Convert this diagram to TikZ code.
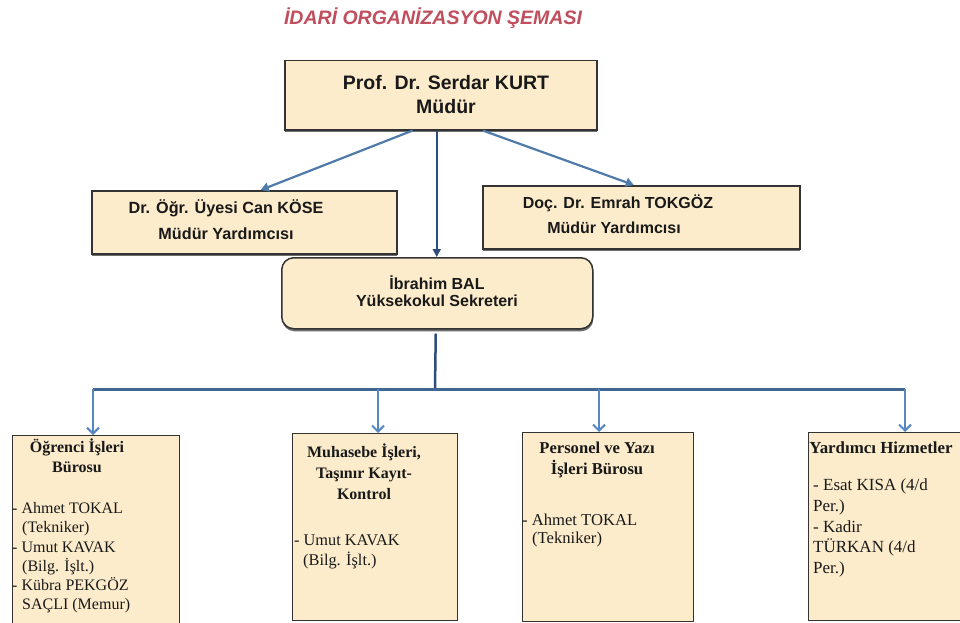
\documentclass[tikz,border=0pt]{standalone}
\usepackage{fontspec}
\setmainfont{Liberation Serif}
\newfontfamily\arialf{Liberation Sans}
\usetikzlibrary{arrows.meta,shadows,calc}
\definecolor{boxfill}{RGB}{252,236,203}
\definecolor{titlered}{RGB}{192,78,92}
\definecolor{diagblue}{RGB}{79,123,170}
\definecolor{navy}{RGB}{46,77,122}
\definecolor{busblue}{RGB}{66,102,145}
\definecolor{thinblue}{RGB}{85,136,192}
\begin{document}
\begin{tikzpicture}[x=1pt,y=-1pt,
  box/.style={draw=black!80, line width=1.5pt, fill=boxfill, anchor=north west, inner sep=0pt,
    drop shadow={shadow xshift=0.5pt, shadow yshift=-2.5pt, fill=black!70, opacity=0.8}},
  lowbox/.style={draw=black!80, line width=1.4pt, fill=boxfill, anchor=north west, inner sep=0pt},
  sanstxt/.style={inner sep=0pt, align=center, text=black!90},
  headtxt/.style={inner sep=0pt, align=center, anchor=north, font=\bfseries, text=black!90},
  bodytxt/.style={inner sep=0pt, align=left, anchor=north west, text=black!90},
  diagarrow/.style={draw=diagblue, line width=2.2pt, -{Triangle[length=8pt,width=9pt]}},
  midarrow/.style={draw=navy, line width=1.8pt, -{Triangle[length=8pt,width=8pt]}},
  busline/.style={draw=busblue, line width=3pt},
  stemline/.style={draw=navy, line width=2.5pt},
  downarrow/.style={draw=thinblue, line width=1.4pt, -{Straight Barb[length=6pt,width=12pt,line width=2pt]}}
]
\useasboundingbox (0,0) rectangle (960,623);
\clip (0,0) rectangle (960,623);
\fill[white] (0,0) rectangle (960,623);

% title
\node[inner sep=0pt, text=titlered, font=\arialf\bfseries\itshape\fontsize{19.5}{22}\selectfont] (title) at (433,18.5) {İDARİ ORGANİZASYON ŞEMASI};

% upper boxes
\node[box, minimum width=312pt, minimum height=69pt] (top) at (284,60) {};
\node[sanstxt, font=\arialf\bfseries\fontsize{19.5}{24}\selectfont] (toptxt) at (446,94.5) {Prof. Dr. Serdar KURT\\Müdür};

\node[box, minimum width=305pt, minimum height=63pt] (lbox) at (91,190) {};
\node[sanstxt, font=\arialf\bfseries\fontsize{16.2}{26}\selectfont] (ltxt) at (226,220) {Dr. Öğr. Üyesi Can KÖSE\\Müdür Yardımcısı};

\node[box, minimum width=317pt, minimum height=63pt] (rbox) at (482,185) {};
\node[sanstxt, font=\arialf\bfseries\fontsize{16}{25}\selectfont] (rtxt) at (618,214.5) {Doç. Dr. Emrah TOKGÖZ\\\hspace*{-8pt}Müdür Yardımcısı};

\node[box, rounded corners=12pt, minimum width=311pt, minimum height=71pt] (mid) at (281,257) {};
\node[sanstxt, font=\arialf\bfseries\fontsize{16}{17}\selectfont] (mtxt) at (437,291.5) {İbrahim BAL\\Yüksekokul Sekreteri};

% lower boxes
\node[lowbox, minimum width=167pt, minimum height=200pt] (b1) at (12,435) {};
\node[lowbox, minimum width=165pt, minimum height=187pt] (b2) at (292,433) {};
\node[lowbox, minimum width=171pt, minimum height=189pt] (b3) at (522,432) {};
\node[lowbox, minimum width=170pt, minimum height=188pt] (b4) at (808,432) {};

\node[headtxt, font=\bfseries\fontsize{16}{20}\selectfont] (h1) at (77,438.5) {\strut Öğrenci İşleri\\Bürosu};
\node[bodytxt, font=\fontsize{16}{19.2}\selectfont] (t1) at (12,500) {\strut - Ahmet TOKAL\\\hspace*{10pt}(Tekniker)\\- Umut KAVAK\\\hspace*{10pt}(Bilg. İşlt.)\\- Kübra PEKGÖZ\\\hspace*{10pt}SAÇLI (Memur)};

\node[headtxt, font=\bfseries\fontsize{16}{21}\selectfont] (h2) at (364,443) {\strut Muhasebe İşleri,\\Taşınır Kayıt-\\Kontrol};
\node[bodytxt, font=\fontsize{16.3}{18}\selectfont] (t2) at (294,533) {\strut - Umut KAVAK\\\hspace*{9pt}(Bilg. İşlt.)};

\node[headtxt, font=\bfseries\fontsize{16.6}{18}\selectfont] (h3) at (597,441) {\strut Personel ve Yazı\\İşleri Bürosu};
\node[bodytxt, font=\fontsize{16.6}{18}\selectfont] (t3) at (522,513) {\strut - Ahmet TOKAL\\\hspace*{10pt}(Tekniker)};

\node[headtxt, font=\bfseries\fontsize{16.9}{20}\selectfont] (h4) at (881,439.5) {\strut Yardımcı Hizmetler};
\node[bodytxt, font=\fontsize{17}{20.75}\selectfont] (t4) at (813,476) {\strut - Esat KISA (4/d\\Per.)\\- Kadir\\TÜRKAN (4/d\\Per.)};

% connectors top
\draw[diagarrow] ($(top.south)+(-28,0)$) -- ($(lbox.north)+(16.5,0)$);
\draw[diagarrow] ($(top.south)+(42,0)$) -- ($(rbox.north)+(-7.5,0)$);
\draw[midarrow] ($(top.south)+(-4,0)$) -- ($(mid.north)+(-0.5,0)$);

% bus
\coordinate (bus) at (435,389);
\coordinate (j1) at (93,389);
\coordinate (j2) at (378,389);
\coordinate (j3) at (599,389);
\coordinate (j4) at (905,389);
\draw[stemline] ($(mid.south)+(-1.5,4)$) -- (bus);
\draw[busline] (j1) -- (j4);
\draw[downarrow] (j1) -- (j1 |- b1.north);
\draw[downarrow] (j2) -- (j2 |- b2.north);
\draw[downarrow] (j3) -- (j3 |- b3.north);
\draw[downarrow] (j4) -- (j4 |- b4.north);
\end{tikzpicture}
\end{document}
